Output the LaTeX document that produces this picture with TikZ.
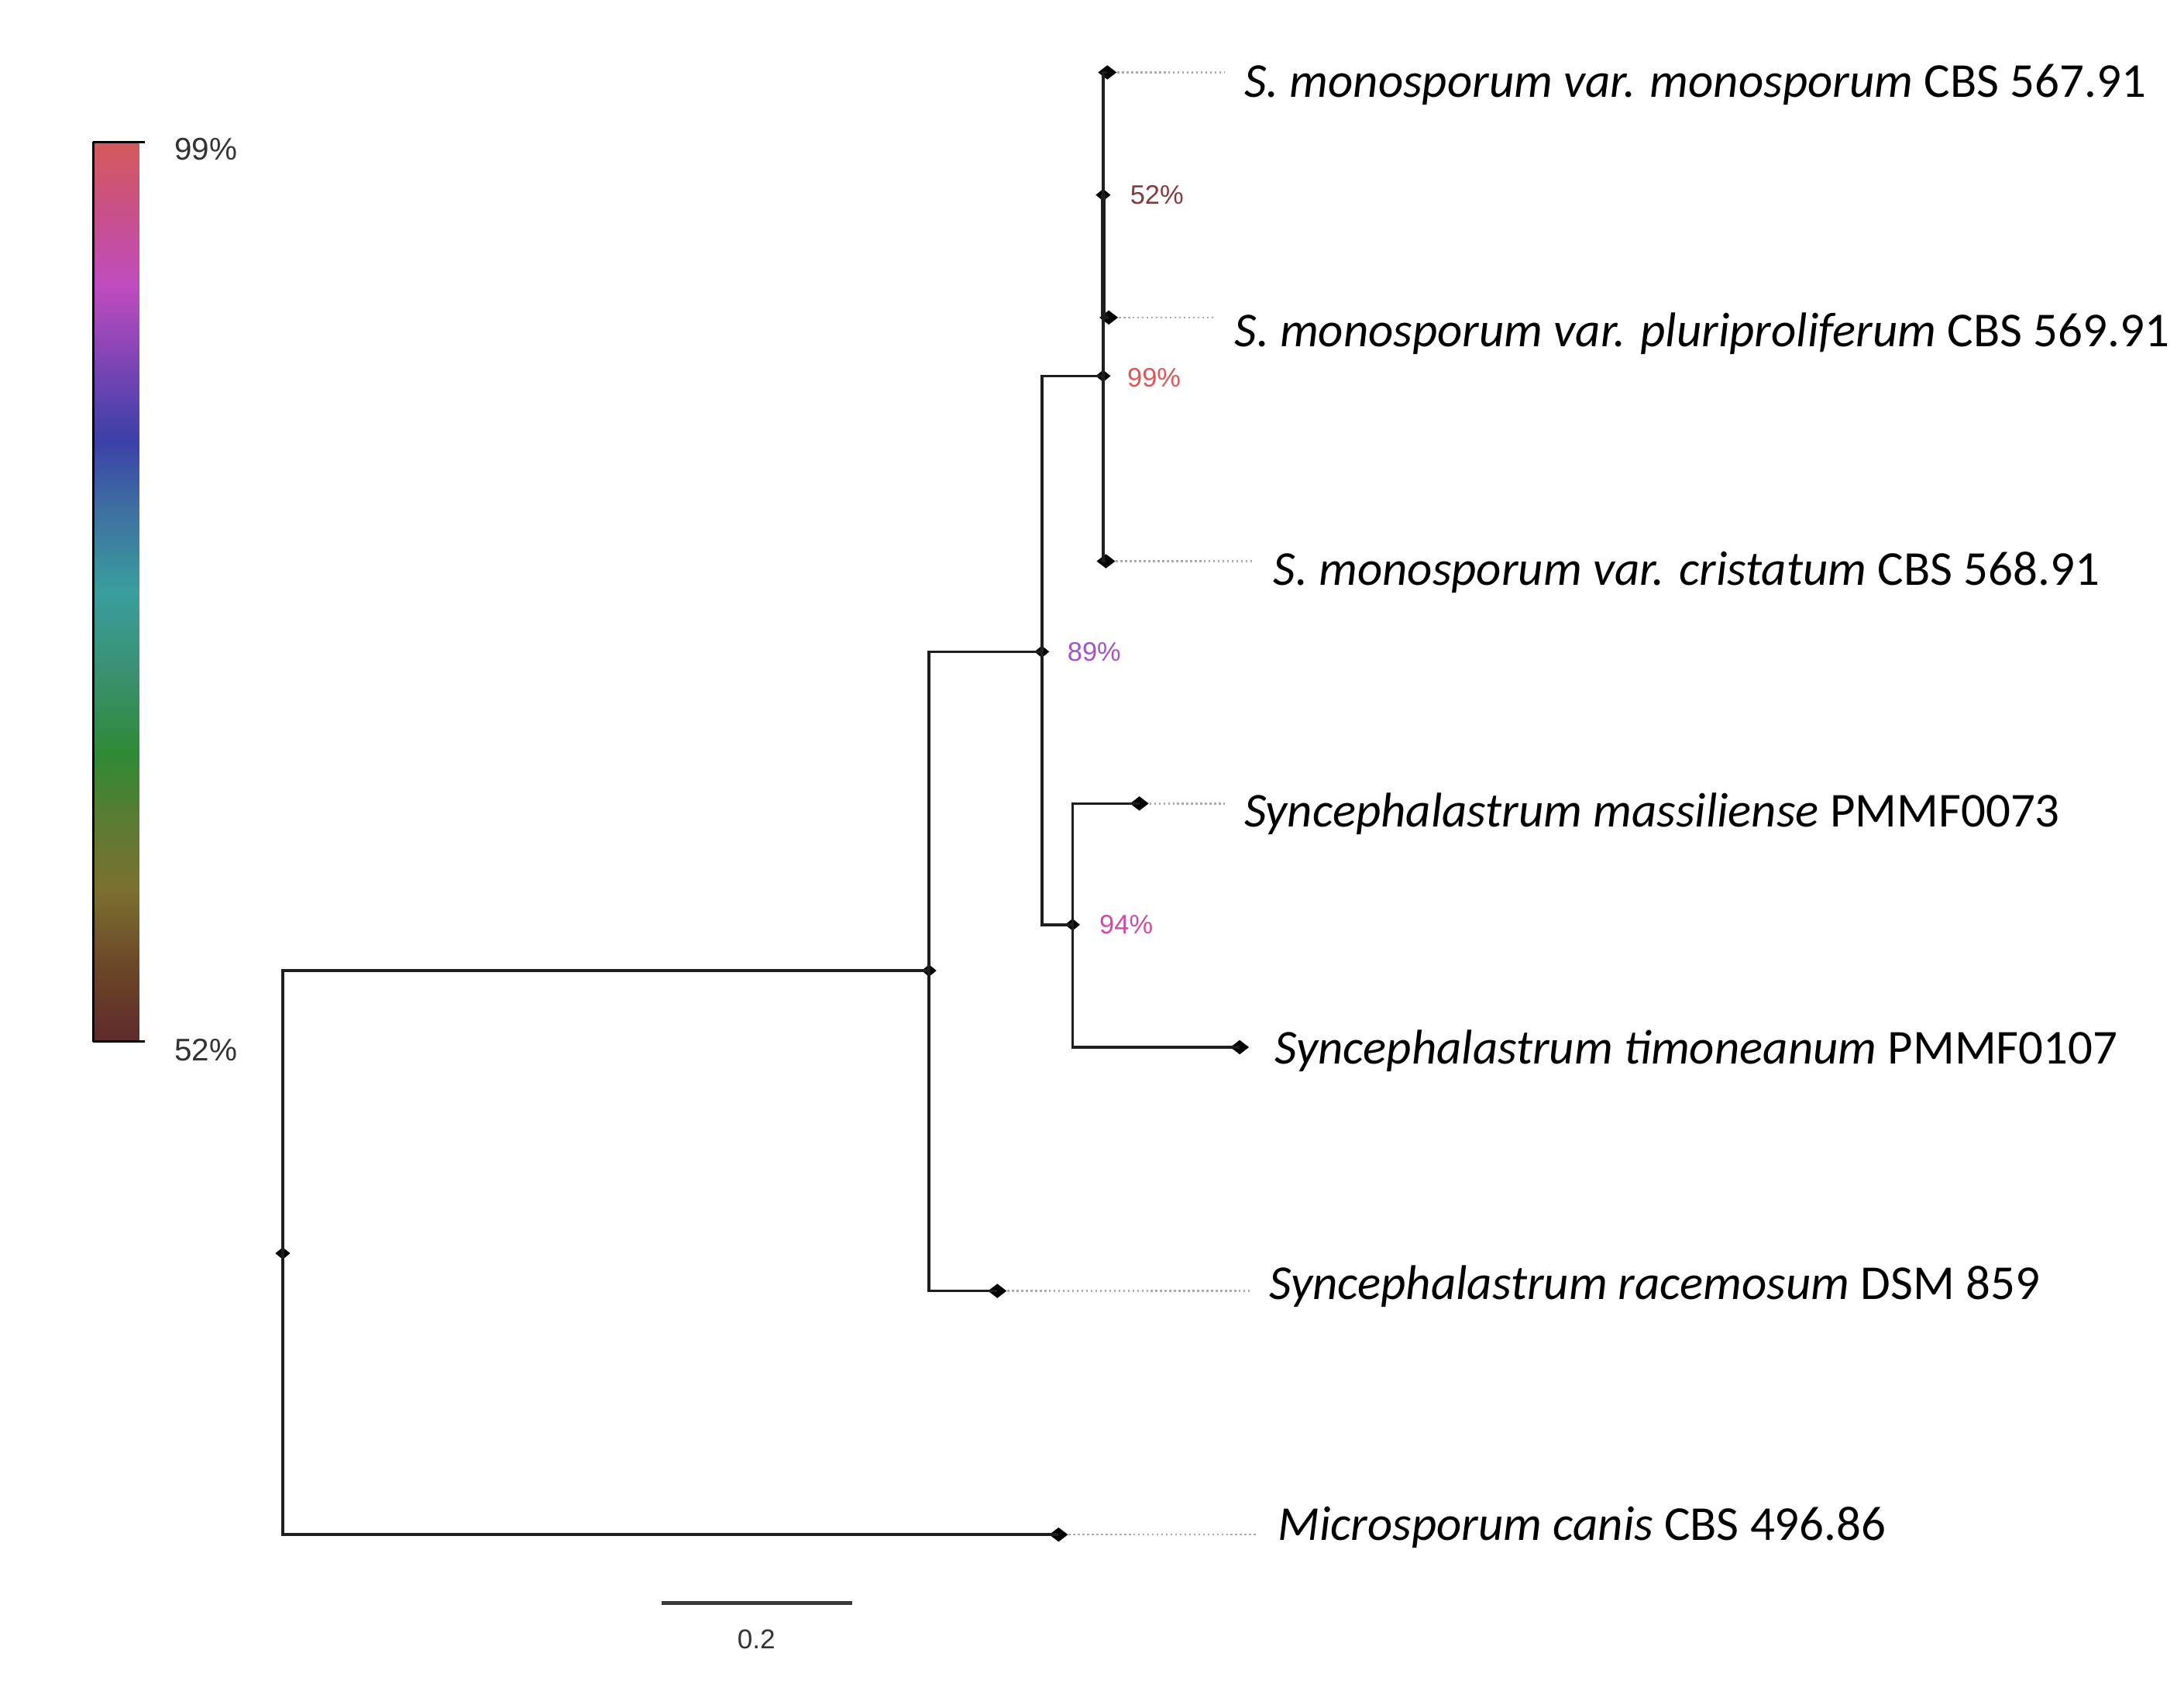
\documentclass[tikz,border=0pt]{standalone}
\usepackage{fontspec}
\setmainfont{Carlito}
\newfontfamily\arialfont{Liberation Sans}
\usetikzlibrary{shapes.geometric}
\definecolor{Branch}{HTML}{1E1E1E}
\definecolor{Leader}{HTML}{ABABAB}
\definecolor{ScaleInk}{HTML}{3A3A3A}
\definecolor{SupFiftyTwo}{HTML}{86393C}
\definecolor{SupNinetyNine}{HTML}{E05555}
\definecolor{SupEightyNine}{HTML}{A352CF}
\definecolor{SupNinetyFour}{HTML}{D04AA6}
% colour bar stops, bottom to top
\definecolor{cbA}{HTML}{5E2A2C}
\definecolor{cbB}{HTML}{6B4528}
\definecolor{cbC}{HTML}{7C7030}
\definecolor{cbD}{HTML}{5E7A32}
\definecolor{cbE}{HTML}{2F8A35}
\definecolor{cbF}{HTML}{3A9070}
\definecolor{cbG}{HTML}{3A9E9E}
\definecolor{cbH}{HTML}{3E70A0}
\definecolor{cbI}{HTML}{3C40A8}
\definecolor{cbJ}{HTML}{7A44B4}
\definecolor{cbK}{HTML}{C04CC0}
\definecolor{cbL}{HTML}{C8508A}
\definecolor{cbM}{HTML}{D45A5A}
\pgfdeclareverticalshading{confbar}{100bp}{color(0bp)=(cbA); color(25bp)=(cbA);
  color(29bp)=(cbB); color(33.5bp)=(cbC); color(37bp)=(cbD); color(41bp)=(cbE);
  color(45.5bp)=(cbF); color(50bp)=(cbG); color(54.5bp)=(cbH); color(58.5bp)=(cbI);
  color(62.5bp)=(cbJ); color(67bp)=(cbK); color(71bp)=(cbL); color(75bp)=(cbM);
  color(100bp)=(cbM)}

\begin{document}
\begin{tikzpicture}[x=0.17978mm,y=-0.17978mm,
    branch/.style={draw=Branch,line width=1pt},
    leader/.style={draw=Leader,line width=0.7pt,dash pattern=on 0.7pt off 1pt,shorten >=7pt},
    inner/.style={diamond,fill=black,inner sep=0pt,minimum width=5.6pt,minimum height=4.6pt},
    tip/.style={diamond,fill=black,inner sep=0pt,minimum width=7pt,minimum height=5.4pt},
    taxon/.style={anchor=base west,inner sep=0pt,font=\fontsize{17.9}{20}\selectfont},
    support/.style={anchor=west,inner sep=0pt,font=\arialfont\fontsize{9.8}{11}\selectfont}]
  \useasboundingbox (0,0) rectangle (1568,1221);

  % internal nodes
  \node[inner] (root) at (203,900) {};
  \node[inner] (ingrp) at (667,697) {};
  \node[inner] (syncgrp) at (748,468) {};
  \node[inner] (monogrp) at (792,270) {};
  \node[inner] (monosub) at (792,140) {};
  \node[inner] (massgrp) at (770,664) {};
  % tips
  \node[tip] (tmono) at (795,52) {};
  \node[tip] (tpluri) at (796,228) {};
  \node[tip] (tcrist) at (794,403) {};
  \node[tip] (tmass) at (818,577) {};
  \node[tip] (ttimo) at (890,752) {};
  \node[tip] (trace) at (716,927) {};
  \node[tip] (tcanis) at (760,1102) {};

  % branches
  \foreach \pa/\ch in {root/ingrp,root/tcanis,ingrp/syncgrp,ingrp/trace,
      syncgrp/monogrp,syncgrp/massgrp,monogrp/monosub,monogrp/tcrist,
      monosub/tmono,monosub/tpluri,massgrp/tmass,massgrp/ttimo}
    \draw[branch] (\pa.center) |- (\ch.center);
  \draw[draw=Branch,line width=1.6pt] (monosub.center) -- (monosub.center |- tpluri.center);

  % taxon labels
  \node[taxon] (lmono) at (893,70) {\itshape S. monosporum var. monosporum\/ \upshape CBS 567.91};
  \node[taxon] (lpluri) at (886,249) {\itshape S. monosporum var. pluriproliferum\/ \upshape CBS 569.91};
  \node[taxon] (lcrist) at (914,420) {\itshape S. monosporum var. cristatum\/ \upshape CBS 568.91};
  \node[taxon] (lmass) at (893,594) {\itshape Syncephalastrum massiliense\/ \upshape PMMF0073};
  \node[taxon] (ltimo) at (915,764) {\itshape Syncephalastrum timoneanum\/ \upshape PMMF0107};
  \node[taxon] (lrace) at (911,933) {\itshape Syncephalastrum racemosum\/ \upshape DSM 859};
  \node[taxon] (lcanis) at (917,1106) {\itshape Microsporum canis\/ \upshape CBS 496.86};

  % dotted leaders
  \foreach \t/\l in {tmono/lmono,tpluri/lpluri,tcrist/lcrist,tmass/lmass,trace/lrace,tcanis/lcanis}
    \draw[leader] (\t.east) -- (\t.east -| \l.west);

  % support values
  \node[support,text=SupFiftyTwo] (s52) at (811,140) {52\%};
  \node[support,text=SupNinetyNine] (s99) at (809,271) {99\%};
  \node[support,text=SupEightyNine] (s89) at (766,468) {89\%};
  \node[support,text=SupNinetyFour] (s94) at (789,664) {94\%};

  % colour bar
  \shade[shading=confbar] (67,102) rectangle (100,748);
  \draw[black,line width=0.8pt] (67,102) -- (67,748);
  \draw[black,line width=0.8pt] (67,102) -- (104,102) (67,748) -- (104,748);
  \node[anchor=west,inner sep=0pt,text=black!80,font=\arialfont\fontsize{11.5}{13}\selectfont] (bartop) at (125,107) {99\%};
  \node[anchor=west,inner sep=0pt,text=black!80,font=\arialfont\fontsize{11.5}{13}\selectfont] (barlow) at (125,754) {52\%};

  % scale bar
  \coordinate (sbleft) at (475,1151);
  \coordinate (sbright) at (612,1151);
  \draw[ScaleInk,line width=1.3pt] (sbleft) -- (sbright);
  \node[inner sep=0pt,text=black!80,font=\arialfont\fontsize{10}{12}\selectfont] (sblabel) at (543,1177) {0.2};
\end{tikzpicture}
\end{document}
